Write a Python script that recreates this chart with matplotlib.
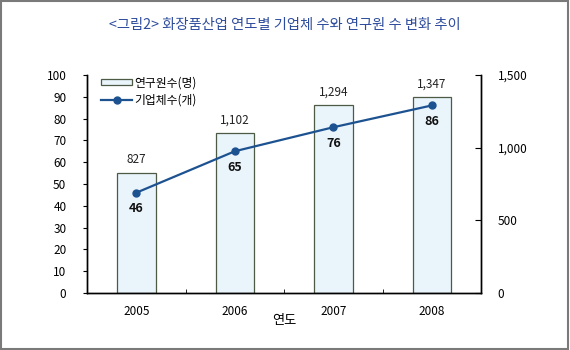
import matplotlib
matplotlib.use("Agg")
import matplotlib.pyplot as plt
from matplotlib.patches import Rectangle
import numpy as np

plt.rcParams['font.family'] = ['Noto Sans CJK KR', 'DejaVu Sans']

years = ['2005', '2006', '2007', '2008']
researchers = [827, 1102, 1294, 1347]
companies = [46, 65, 76, 86]
title = '<그림2> 화장품산업 연도별 기업체 수와 연구원 수 변화 추이'
bar_label = '연구원수(명)'
line_label = '기업체수(개)'
xlabel = '연도'

fig = plt.figure(figsize=(5.7, 3.5), dpi=100)
fig.patch.set_facecolor('white')
fig.patches.append(Rectangle((0.001, 0.003), 0.996, 0.994, transform=fig.transFigure,
                             fill=False, edgecolor='#7a7a7a', linewidth=1.5))

ax = fig.add_axes([0.153, 0.163, 0.691, 0.623])
ax2 = ax.twinx()

x = np.arange(len(years)) + 0.5
bars = ax2.bar(x, researchers, width=0.39, color='#e9f4fb', edgecolor='#4d5b45',
               linewidth=0.9, label=bar_label, zorder=1)
ax2.set_ylim(0, 1500)
ax2.set_yticks([0, 500, 1000, 1500])
ax2.set_yticklabels(['0', '500', '1,000', '1,500'])
for xi, v in zip(x, researchers):
    ax2.text(xi, v + 45, f'{v:,}', ha='center', va='bottom', fontsize=8.5, color='#222222')

ax.set_zorder(ax2.get_zorder() + 1)
ax.patch.set_visible(False)
ln, = ax.plot(x, companies, color='#1d5291', linewidth=1.6, marker='o', markersize=5,
              label=line_label, zorder=3)
ax.set_ylim(0, 100)
ax.set_yticks(range(0, 101, 10))
ax.set_xlim(0, 4)
for xi, v in zip(x, companies):
    ax.text(xi, v - 4.5, str(v), ha='center', va='top', fontsize=9, fontweight='bold',
            color='#111111')

ax.set_xticks(x)
ax.set_xticklabels(years)
ax.set_xticks([1, 2, 3], minor=True)
ax.tick_params(axis='x', which='major', length=0, labelsize=8.5, pad=9)
ax.tick_params(axis='x', which='minor', length=3, direction='in')
ax.tick_params(axis='y', length=3, direction='out', labelsize=8.5, pad=12)
ax2.tick_params(axis='y', length=4, direction='in', labelsize=8.5, pad=12)
ax.set_xlabel(xlabel, fontsize=9.5, labelpad=-3)

for a in (ax, ax2):
    a.spines['top'].set_visible(False)
    for s in ('left', 'right', 'bottom'):
        a.spines[s].set_linewidth(1.0)
        a.spines[s].set_color('black')

leg = ax.legend([bars, ln], [bar_label, line_label], loc='upper left',
                bbox_to_anchor=(0.015, 1.03), frameon=False, fontsize=8.5,
                handlelength=2.6, handleheight=0.4, labelspacing=0.3,
                borderaxespad=0.3, handletextpad=0.2)

fig.text(0.5, 0.928, title, ha='center', va='center', fontsize=10.3, color='#2d4c9c')

fig.savefig('out.png', dpi=100)
